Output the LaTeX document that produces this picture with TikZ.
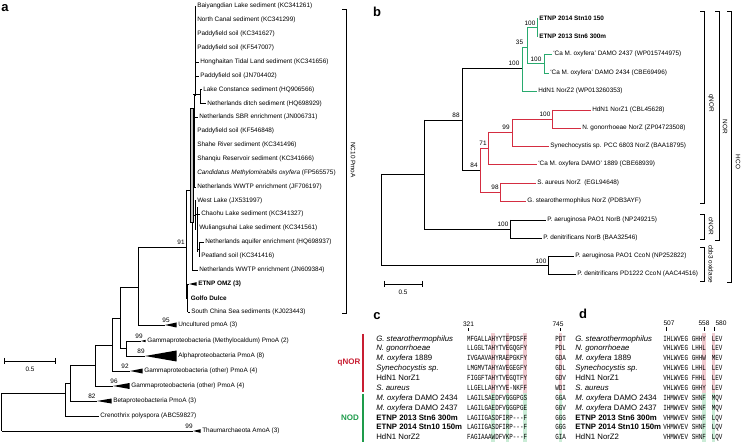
\documentclass[tikz,border=0pt]{standalone}
\usepackage{fontspec}
\setmainfont{Liberation Sans}
\setmonofont{Liberation Mono}
\usepackage{graphicx}
\usepackage{tikz}
\definecolor{cTreeGreen}{RGB}{40,170,110}
\definecolor{cTreeRed}{RGB}{212,45,65}
\definecolor{cNor}{RGB}{200,30,50}
\definecolor{cNod}{RGB}{30,155,75}
\definecolor{cHiRed}{RGB}{242,205,210}
\definecolor{cHiGreen}{RGB}{202,236,214}
\newcommand{\leaffont}{\fontsize{6.4}{7}\selectfont}
\newcommand{\seqtxt}[1]{\scalebox{0.755}[1]{\ttfamily #1}}
\newcommand{\clade}[4]{\fill (#1,#2) -- (#3,#2-#4) -- (#3,#2+#4) -- cycle;}
\tikzset{
	leaf/.style     ={anchor=west, inner xsep=1.5pt, inner ysep=0pt, font=\leaffont},
	boot/.style     ={inner sep=0pt, font=\leaffont},
	grpbracket/.style={line width=0.6pt},
	grplab/.style   ={rotate=-90, inner sep=0pt, font=\leaffont},
	panel/.style    ={inner sep=0pt, font=\fontsize{13}{14}\selectfont\bfseries},
	seqname/.style  ={anchor=base west, inner sep=0pt, font=\fontsize{7.8}{9}\selectfont},
	seqrow/.style   ={anchor=base west, inner sep=0pt, font=\fontsize{7.8}{8}\selectfont},
	seqpos/.style   ={inner sep=0pt, font=\fontsize{6.6}{7}\selectfont},
	grptag/.style   ={inner sep=0pt, font=\fontsize{8}{9}\selectfont\bfseries},
	greenbr/.style  ={draw=cTreeGreen},
	redbr/.style    ={draw=cTreeRed},
}
\begin{document}
\begin{tikzpicture}[x=1pt, y=-1pt, line width=0.6pt]
	\useasboundingbox (0,0) rectangle (744,443);
	% ---------------- panel a ----------------
	\node[panel] (la) at (5,8) {a};
	\draw (1.5,393) -- (1.5,431);
	\draw (1.5,393) -- (65,393);
	\draw (65,383) -- (65,416);
	\draw (65,383) -- (70,383);
	\draw (70,365) -- (70,401);
	\draw (70,365) -- (95,365);
	\draw (95,345) -- (95,386);
	\draw (95,345) -- (112,345);
	\draw (112,318) -- (112,371);
	\draw (112,318) -- (120,318);
	\draw (120,287) -- (120,348);
	\draw (120,287) -- (138,287);
	\draw (120,348) -- (126,348);
	\draw (126,341) -- (126,356);
	\draw (138,247) -- (138,325);
	\draw (138,247) -- (186,247);
	\draw (186,190) -- (186,298);
	\draw (186,190) -- (191,190);
	\draw (186,298) -- (187.5,298);
	\draw (187.5,284) -- (187.5,312);
	\draw[line width=1.3pt] (187.5,293) -- (187.5,303);
	% NC10 crown
	\draw[fill=gray!45, line width=0.3pt] (190.5,108) rectangle (193.3,222);
	\draw (195,6) -- (195,96);
	\draw[line width=1.1pt] (194.3,95) -- (194.3,187);
	\draw[line width=1pt] (193,95) -- (200,95);
	\draw (200,89.5) -- (200,103.5);
	\draw (194.8,200.5) -- (194.8,230);
	\draw (193.3,215) -- (194.8,215);
	\draw[line width=1pt] (197.5,207) -- (197.5,252);
	\draw (194.8,214) -- (197.5,214);
	\draw (199,242) -- (199,256);
	\draw (197.5,249) -- (199,249);
	\draw (192,222) -- (192,270);
	% leaves
	\node[leaf] (bai)   at (195.5,6)   {Baiyangdian Lake sediment (KC341261)};
	\node[leaf] (ncan)  at (195.5,20)  {North Canal sediment (KC341299)};
	\node[leaf] (pad1)  at (195.5,34)  {Paddyfield soil (KC341627)};
	\node[leaf] (pad2)  at (195.5,48)  {Paddyfield soil (KF547007)};
	\node[leaf] (hong)  at (198.5,62)  {Honghaitan Tidal Land sediment (KC341656)};
	\node[leaf] (pad3)  at (198.5,76)  {Paddyfield soil (JN704402)};
	\node[leaf] (lcon)  at (201.5,89.5) {Lake Constance sediment (HQ906566)};
	\node[leaf] (ditch) at (205.5,103.5) {Netherlands ditch sediment (HQ698929)};
	\node[leaf] (sbr)   at (197.5,117) {Netherlands SBR enrichment (JN006731)};
	\node[leaf] (pad4)  at (195.5,131) {Paddyfield soil (KF546848)};
	\node[leaf] (shahe) at (195.5,145) {Shahe River sediment (KC341496)};
	\node[leaf] (shan)  at (195.5,159) {Shanqiu Reservoir sediment (KC341666)};
	\node[leaf] (cand)  at (195.5,173) {\textit{Candidatus Methylomirabilis oxyfera} (FP565575)};
	\node[leaf] (wwtpa) at (195.5,187) {Netherlands WWTP enrichment (JF706197)};
	\node[leaf] (west)  at (195.5,200.5) {West Lake (JX531997)};
	\node[leaf] (chao)  at (199.5,214) {Chaohu Lake sediment (KC341327)};
	\node[leaf] (wuli)  at (197.5,228) {Wuliangsuhai Lake sediment (KC341561)};
	\node[leaf] (aqui)  at (203.5,242) {Netherlands aquifer enrichment (HQ698937)};
	\node[leaf] (peat)  at (199.5,256) {Peatland soil (KC341416)};
	\node[leaf] (wwtpb) at (197.5,270) {Netherlands WWTP enrichment (JN609384)};
	\node[leaf] (omz)   at (196.5,284) {\textbf{ETNP OMZ (3)}};
	\node[leaf] (golfo) at (189,298)   {\textbf{Golfo Dulce}};
	\node[leaf] (scs)   at (189.5,312) {South China Sea sediments (KJ023443)};
	\node[leaf] (uncu)  at (176.5,325) {Uncultured pmoA (3)};
	\node[leaf] (gmeth) at (145.5,341) {Gammaproteobacteria (Methylocaldum) PmoA (2)};
	\node[leaf] (alpha) at (176.5,356) {Alphaproteobacteria PmoA (8)};
	\node[leaf] (gotha) at (142.5,371) {Gammaproteobacteria (other) PmoA (4)};
	\node[leaf] (gothb) at (129.5,386) {Gammaproteobacteria (other) PmoA (4)};
	\node[leaf] (beta)  at (111.5,401) {Betaproteobacteria PmoA (3)};
	\node[leaf] (creno) at (98.5,416)  {Crenothrix polyspora (ABC59827)};
	\node[leaf] (thaum) at (200.5,431) {Thaumarchaeota AmoA (3)};
	\draw (195,6) -- (bai.west);
	\draw (195,62) -- (hong.west);
	\draw (195,76) -- (pad3.west);
	\draw (200,89.5) -- (lcon.west);
	\draw (200,103.5) -- (ditch.west);
	\draw (194.3,117) -- (sbr.west);
	\draw (194.3,187) -- (wwtpa.west);
	\draw (194.8,200.5) -- (west.west);
	\draw (197.5,214) -- (chao.west);
	\draw (197.5,228) -- (wuli.west);
	\draw (199,242) -- (aqui.west);
	\draw (199,256) -- (peat.west);
	\draw (192,270) -- (wwtpb.west);
	\draw (187.5,312) -- (scs.west);
	\draw (65,416) -- (creno.west);
	% collapsed clades
	\draw (187.5,284) -- (189,284);   \clade{189}{284}{196.5}{1.8}
	\draw (138,325) -- (165,325);     \clade{165}{325}{176.5}{2.5}
	\draw (126,341) -- (141,341);     \clade{141}{341}{145.5}{1.2}
	\draw (126,356) -- (145,356);     \clade{145}{356}{176.5}{5.5}
	\draw (112,371) -- (130,371);     \clade{130}{371}{142.5}{2.5}
	\draw (95,386) -- (113,386);      \clade{113}{386}{129.5}{3}
	\draw (70,401) -- (97,401);       \clade{97}{401}{111.5}{2.5}
	\draw (1.5,431) -- (193,431);     \clade{193}{431}{200.5}{1.8}
	% support values
	\node[boot] (bsaa) at (181,242.5) {91};
	\node[boot] (bsab) at (166,320.5) {95};
	\node[boot] (bsac) at (139,336.5) {99};
	\node[boot] (bsad) at (141,351)   {89};
	\node[boot] (bsae) at (125,366.5) {92};
	\node[boot] (bsaf) at (114,381.5) {96};
	\node[boot] (bsag) at (92,396.5)  {82};
	\node[boot] (bsah) at (189,426.5) {99};
	% group bracket and scale
	\draw[grpbracket] (342,9) -- (346,9) -- (346,313) -- (342,313);
	\node[grplab] (nc10) at (353,160) {NC10 PmoA};
	\draw (4,361) -- (55,361);
	\draw (4,358) -- (4,364);
	\draw (55,358) -- (55,364);
	\node[boot] (scla) at (30,369) {0.5};
	% ---------------- panel b ----------------
	\node[panel] (lb) at (377,12) {b};
	\draw (381,174) -- (381,265.5);
	\draw (381,174) -- (424,174);
	\draw (381,265.5) -- (548,265.5);
	\draw (424,120) -- (424,229);
	\draw (424,120) -- (462,120);
	\draw (424,229) -- (510,229);
	\draw (510,220) -- (510,238);
	\draw (548,256) -- (548,274);
	\draw (462,68) -- (462,170);
	\draw (462,68) -- (522,68);
	\draw (462,170) -- (480,170);
	\draw[greenbr] (522,47) -- (522,91);
	\draw[greenbr] (522,47) -- (527,47);
	\draw[greenbr] (527,27) -- (527,63.5);
	\draw[greenbr] (527,27) -- (537,27);
	\draw[greenbr] (537,18) -- (537,36);
	\draw[greenbr] (527,63.5) -- (544,63.5);
	\draw[greenbr] (544,54) -- (544,73);
	\draw[redbr] (480,148) -- (480,192);
	\draw[redbr] (480,148) -- (488,148);
	\draw[redbr] (488,132) -- (488,164);
	\draw[redbr] (488,132) -- (512,132);
	\draw[redbr] (512,119) -- (512,146);
	\draw[redbr] (512,119) -- (552,119);
	\draw[redbr] (552,110) -- (552,128);
	\draw[redbr] (480,192) -- (500,192);
	\draw[redbr] (500,183) -- (500,201);
	\node[leaf] (etnpa) at (537.5,18)  {\textbf{ETNP 2014 Stn10 150}};
	\node[leaf] (etnpb) at (537.5,36)  {\textbf{ETNP 2013 Stn6 300m}};
	\node[leaf] (damoa) at (551.5,54)  {`Ca M. oxyfera' DAMO 2437 (WP015744975)};
	\node[leaf] (damob) at (548.5,73)  {`Ca M. oxyfera' DAMO 2434 (CBE69496)};
	\node[leaf] (hdnb)  at (536.5,91)  {HdN1 NorZ2 (WP013260353)};
	\node[leaf] (hdna)  at (590.5,110) {HdN1 NorZ1 (CBL45628)};
	\node[leaf] (ngon)  at (580.5,128) {N. gonorrhoeae NorZ (ZP04723508)};
	\node[leaf] (syn)   at (548.5,146) {Synechocystis sp. PCC 6803 NorZ (BAA18795)};
	\node[leaf] (damoc) at (536.5,164) {`Ca M. oxyfera DAMO' 1889 (CBE68939)};
	\node[leaf] (saur)  at (535.5,183) {S. aureus NorZ\ \ (EGL94648)};
	\node[leaf] (gst)   at (525.5,201) {G. stearothermophilus NorZ (PDB3AYF)};
	\node[leaf] (paeb)  at (545.5,220) {P. aeruginosa PAO1 NorB (NP249215)};
	\node[leaf] (pdeb)  at (541.5,238) {P. denitrificans NorB (BAA32546)};
	\node[leaf] (paec)  at (573.5,256) {P. aeruginosa PAO1 CcoN (NP252822)};
	\node[leaf] (pdec)  at (575.5,274) {P. denitrificans PD1222 CcoN (AAC44516)};
	\draw[greenbr] (537,18) -- (etnpa.west);
	\draw[greenbr] (537,36) -- (etnpb.west);
	\draw[greenbr] (544,54) -- (damoa.west);
	\draw[greenbr] (544,73) -- (damob.west);
	\draw[greenbr] (522,91) -- (hdnb.west);
	\draw[redbr] (552,110) -- (hdna.west);
	\draw[redbr] (552,128) -- (ngon.west);
	\draw[redbr] (512,146) -- (syn.west);
	\draw[redbr] (488,164) -- (damoc.west);
	\draw[redbr] (500,183) -- (saur.west);
	\draw[redbr] (500,201) -- (gst.west);
	\draw (510,220) -- (paeb.west);
	\draw (510,238) -- (pdeb.west);
	\draw (548,256) -- (paec.west);
	\draw (548,274) -- (pdec.west);
	\node[boot] (bsba) at (530,23.5)  {100};
	\node[boot] (bsbb) at (519.5,42.5) {35};
	\node[boot] (bsbc) at (536,59.5)  {100};
	\node[boot] (bsbd) at (514,63.5)  {100};
	\node[boot] (bsbe) at (456,115.5) {88};
	\node[boot] (bsbf) at (545,114.5) {100};
	\node[boot] (bsbg) at (506,127.5) {99};
	\node[boot] (bsbh) at (483,143.5) {71};
	\node[boot] (bsbi) at (474,165.5) {84};
	\node[boot] (bsbj) at (495,187.5) {98};
	\node[boot] (bsbk) at (503,224.5) {100};
	\node[boot] (bsbl) at (541,261)   {100};
	\draw[grpbracket] (700,11) -- (704,11) -- (704,203) -- (700,203);
	\draw[grpbracket] (715,11) -- (719,11) -- (719,240) -- (715,240);
	\draw[grpbracket] (727,11) -- (731,11) -- (731,282) -- (727,282);
	\draw[grpbracket] (700,214) -- (704,214) -- (704,239) -- (700,239);
	\draw[grpbracket] (700,247) -- (704,247) -- (704,281) -- (700,281);
	\node[grplab] (gqnor) at (711,103) {qNOR};
	\node[grplab] (gnor)  at (725,127) {NOR};
	\node[grplab] (ghco)  at (738,162) {HCO};
	\node[grplab] (gcnor) at (711,226.5) {cNOR};
	\node[grplab] (gcbb)  at (711,264) {cbb3 oxidase};
	\draw (384,284) -- (422,284);
	\draw (384,281) -- (384,287);
	\draw (422,281) -- (422,287);
	\node[boot] (sclb) at (403,292) {0.5};
	% ---------------- panels c and d ----------------
	\node[panel] (lc) at (377,316) {c};
	\node[panel] (ld) at (583,314) {d};
	\foreach \cx in {491.41, 505.53, 523.18, 558.53, 702.09, 711.5}{
		\fill[cHiRed] (\cx,333.4) rectangle ++(3.53,59.2);
		\fill[cHiGreen] (\cx,392.6) rectangle ++(3.53,49.3);
	}
	\draw[cNor, line width=1.8pt] (363,334) -- (363,391.5);
	\draw[cNod, line width=1.8pt] (363,394) -- (363,441.5);
	\node[grptag, text=cNor] (tagq) at (349,363) {qNOR};
	\node[grptag, text=cNod] (tagn) at (350,417.5) {NOD};
	\node[seqpos] (pca) at (468.5,324.5) {321};
	\node[seqpos] (pcb) at (558,324.5) {745};
	\node[seqpos] (pda) at (669,323.5) {507};
	\node[seqpos] (pdb) at (704,323.5) {558};
	\node[seqpos] (pdc) at (721,323.5) {580};
	\draw[line width=0.8pt] (468.5,328) -- (468.5,331.5);
	\draw[line width=0.8pt] (560.3,328) -- (560.3,331.5);
	\draw[line width=0.8pt] (666.5,327.5) -- (666.5,331);
	\draw[line width=0.8pt] (704.5,327.5) -- (704.5,331);
	\draw[line width=0.8pt] (714,327.5) -- (714,331);
	\foreach \r/\nm/\sqa/\sqb/\sqc/\sqd/\sqe in {
		1/\textit{G. stearothermophilus}/MFGALLAHYYTEPDSFF/PDT/IHLWVEG/GHHY/LEV,
		2/\textit{N. gonorrhoeae}/LLGGLTAHYTVEGQGFY/PDL/VHLWVEG/LHHL/LEV,
		3/\textit{M. oxyfera} 1889/IVGAAVAHYRAEPGKFY/GDA/VHLWVEG/GHHW/MEV,
		4/\textit{Synechocystis sp.}/LMGMVTAHYAVEGEGFY/GDL/VHLWVEG/LHHL/LEV,
		5/HdN1 NorZ1/FIGGFTAHYTVEGQTFY/GDV/VHLWVEG/FHHL/LEV,
		6/\textit{S. aureus}/LLGELLAHYYVE-NKFF/WDI/VHLWVEG/GHHY/LEV,
		7/\textit{M. oxyfera} DAMO 2434/LAGILSAEDFVGGGPGS/GGA/IHMWVEV/SHNF/MQV,
		8/\textit{M. oxyfera} DAMO 2437/LAGILGAEDFVGGGPGE/GGV/IHMWVEV/SHNF/MQV,
		9/\textbf{ETNP 2013 Stn6 300m}/LAGIIGASDFIRP---F/GGG/VHMWVEV/SHNF/LQV,
		10/\textbf{ETNP 2014 Stn10 150m}/LAGIIGASDFIRP---F/GGG/VHMWVEV/SHNF/LQV,
		11/HdN1 NorZ2/FAGIAAAWDFVKP---F/GIA/VHMWVEV/SHNF/LQV}{
		\pgfmathsetmacro{\yy}{341.1+9.87*(\r-1)}
		\node[seqname] (cn\r) at (376,\yy) {\nm};
		\node[seqname] (dn\r) at (575,\yy) {\nm};
		\node[seqrow] (ca\r) at (466.7,\yy) {\seqtxt{\sqa}};
		\node[seqrow] (cb\r) at (555,\yy) {\seqtxt{\sqb}};
		\node[seqrow] (da\r) at (663,\yy) {\seqtxt{\sqc}};
		\node[seqrow] (db\r) at (691.5,\yy) {\seqtxt{\sqd}};
		\node[seqrow] (dc\r) at (711.5,\yy) {\seqtxt{\sqe}};
	}
\end{tikzpicture}
\end{document}
